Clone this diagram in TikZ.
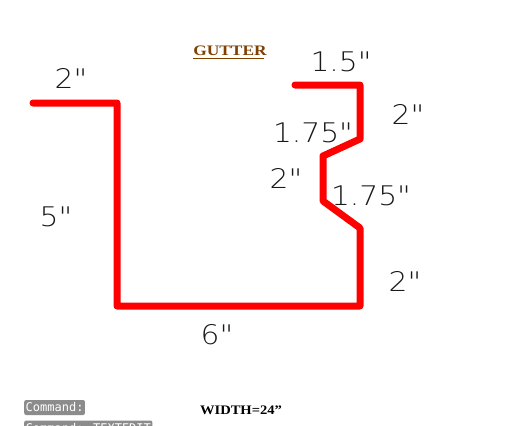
\documentclass[tikz,border=0pt]{standalone}
\usepackage{fontspec}
\setmainfont{Liberation Serif}
\newfontfamily\lite{DejaVu Sans ExtraLight}
\newfontfamily\cmdfont{DejaVu Sans Mono}
\definecolor{gutterbrown}{RGB}{128,64,0}
\definecolor{cmdgray}{RGB}{140,140,140}
\tikzset{
  dim/.style={font=\lite\fontsize{27}{27}\selectfont,text=black!90,inner sep=0pt,anchor=center,xscale=1.1},
  profile/.style={draw=red,line width=7pt,line cap=round,line join=round},
  cmd/.style={fill=cmdgray,text=white,rounded corners=2pt,font=\cmdfont\fontsize{12}{12}\selectfont,inner sep=1.5pt,anchor=west,minimum height=15pt},
  title/.style={font=\bfseries\fontsize{14.5}{14.5}\selectfont,inner sep=0pt,xscale=1.2}
}
\begin{document}
\begin{tikzpicture}[x=1pt,y=-1pt]
\useasboundingbox (0,0) rectangle (507,426);
\clip (0,0) rectangle (507,426);
\fill[white] (0,0) rectangle (507,426);
\draw[profile] (33,103) -- (117,103) -- (117,306) -- (360,306) -- (360,228) -- (323,201) -- (323,156) -- (360,139) -- (360,85) -- (295,85);
\node[title,text=gutterbrown] (g) at (230,50.5) {GUTTER};
\draw[gutterbrown,line width=0.9pt] (193,58.5) -- (264,58.5);
\node[dim] (a) at (71,78) {2"};
\node[dim] (b) at (341,62) {1.5"};
\node[dim] (c) at (408,114) {2"};
\node[dim] (d) at (313,133) {1.75"};
\node[dim] (e) at (286,178) {2"};
\node[dim] (f) at (371,196) {1.75"};
\node[dim] (h) at (56,217) {5"};
\node[dim] (i) at (405,281) {2"};
\node[dim] (j) at (217,335) {6"};
\node[font=\bfseries\fontsize{13}{13}\selectfont,inner sep=0pt,xscale=1.12] (w) at (241,410) {WIDTH=24''};
\node[cmd] (k) at (24,407.5) {Command:};
\node[cmd] (l) at (24,428) {Command: TEXTEDIT};
\end{tikzpicture}
\end{document}
